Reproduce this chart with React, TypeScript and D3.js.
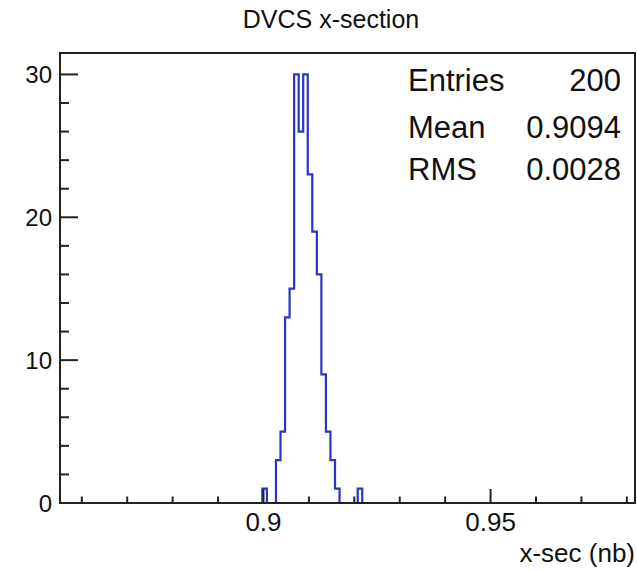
import React from "react";
import * as d3 from "d3";

// ---- data ----
const binStart = 0.89975;
const binWidth = 0.001;
const counts = [1, 0, 0, 3, 5, 13, 15, 30, 26, 30, 23, 19, 16, 9, 5, 3, 1, 0, 0, 0, 0, 1];
const xMajorTicks = [0.9, 0.95];
const xMinorTicks = [0.86, 0.87, 0.88, 0.89, 0.91, 0.92, 0.93, 0.94, 0.96, 0.97, 0.98];
const yMajorTicks = [0, 10, 20, 30];
const yMinorTicks = [2, 4, 6, 8, 12, 14, 16, 18, 22, 24, 26, 28];
const statLabels = ["Entries", "Mean", "RMS"];
const statValues = ["200", "0.9094", "0.0028"];
const title = "DVCS x-section";
const xTitle = "x-sec (nb)";

const W = 637;
const H = 572;
const FONT = "'Liberation Sans', Arial, Helvetica, sans-serif";

export default function App() {
  const x = d3.scaleLinear().domain([0.8552, 0.9818]).range([60, 635]);
  const y = d3.scaleLinear().domain([0, 31.5]).range([503, 53]);

  const pts: [number, number][] = [];
  pts.push([binStart, 0]);
  counts.forEach((c, i) => {
    const x0 = binStart + i * binWidth;
    pts.push([x0, c]);
    pts.push([x0 + binWidth, c]);
  });
  pts.push([binStart + counts.length * binWidth, 0]);
  const line = d3
    .line<[number, number]>()
    .x((d) => x(d[0]))
    .y((d) => y(d[1]));

  const statRowY = [91, 138, 180];

  return (
    <svg
      width={W}
      height={H}
      style={{ position: "absolute", left: 0, top: 0, background: "#fff" }}
      fontFamily={FONT}
    >
      <rect x={0} y={0} width={W} height={H} fill="#fff" />
      <text x={331} y={28} fontSize={25} textAnchor="middle" fill="#111">
        {title}
      </text>
      <path d={line(pts) || ""} fill="none" stroke="#2b35c4" strokeWidth={2.2} />
      <rect x={60} y={53} width={575} height={450} fill="none" stroke="#222" strokeWidth={2} />
      {xMajorTicks.map((t) => (
        <g key={"xM" + t}>
          <line x1={x(t)} x2={x(t)} y1={503} y2={489} stroke="#222" strokeWidth={2} />
          <text x={x(t)} y={530.5} fontSize={26} textAnchor="middle" fill="#111">
            {d3.format("")(t)}
          </text>
        </g>
      ))}
      {xMinorTicks.map((t) => (
        <line key={"xm" + t} x1={x(t)} x2={x(t)} y1={503} y2={496.5} stroke="#222" strokeWidth={2} />
      ))}
      {yMajorTicks.map((t) => (
        <g key={"yM" + t}>
          <line x1={60} x2={78} y1={y(t)} y2={y(t)} stroke="#222" strokeWidth={2} />
          <text x={52} y={y(t) + 8.5} fontSize={24} textAnchor="end" fill="#111">
            {t}
          </text>
        </g>
      ))}
      {yMinorTicks.map((t) => (
        <line key={"ym" + t} x1={60} x2={69} y1={y(t)} y2={y(t)} stroke="#222" strokeWidth={2} />
      ))}
      {statLabels.map((s, i) => (
        <g key={s}>
          <text x={408} y={statRowY[i]} fontSize={31} fill="#111">
            {s}
          </text>
          <text x={621} y={statRowY[i]} fontSize={31} textAnchor="end" fill="#111">
            {statValues[i]}
          </text>
        </g>
      ))}
      <text x={635} y={562} fontSize={26} textAnchor="end" fill="#111">
        {xTitle}
      </text>
    </svg>
  );
}
